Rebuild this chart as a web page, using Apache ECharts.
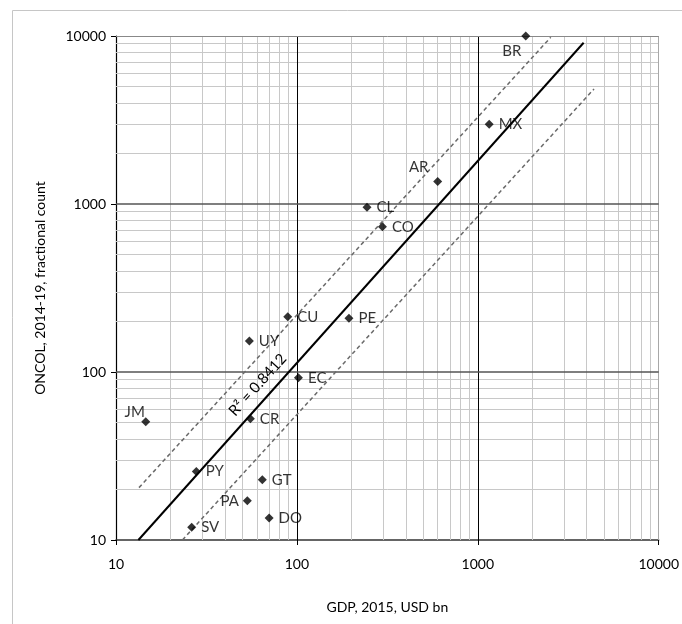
<!DOCTYPE html>
<html>
<head>
<meta charset="utf-8">
<script src="https://cdn.jsdelivr.net/npm/echarts@6/dist/echarts.min.js"></script>
<style>
  html, body { margin: 0; padding: 0; background: #fff; }
  #chart { width: 682px; height: 624px; }
</style>
</head>
<body>
<div id="chart"></div>
<script>
// country codes, GDP 2015 (USD bn), ONCOL 2014-19 fractional count
const countries = ["BR", "MX", "AR", "CL", "CO", "CU", "PE", "UY", "EC", "JM", "CR", "PY", "GT", "PA", "DO", "SV"];
const gdp = [1841, 1156, 600, 244, 297, 89, 194, 54.6, 102, 14.6, 55.3, 27.8, 64.4, 53.2, 70.2, 26.2];
const oncol = [10000, 2980, 1360, 955, 733, 213, 209, 153, 92.5, 50.6, 52.7, 25.6, 22.8, 17.1, 13.5, 11.9];

// power trendline and the two dashed bands (end points in data units)
const trendX = [13.3, 3846];
const trendY = [10, 9120];
const upperX = [13.4, 2530];
const upperY = [20.5, 9820];
const lowerX = [23.3, 4390];
const lowerY = [10, 4840];
const r2Text = "R² = 0.8412";
const r2At = [60.7, 83.8];

const xTicks = [10, 100, 1000, 10000];
const yTicks = [10, 100, 1000, 10000];
const minorMult = [2, 3, 4, 5, 6, 7, 8, 9];

const FONT = "Lato";
const FS = 15;

// label placement for each country
const labelPlace = {
  BR: { position: "inside", offset: [-14, 15] },
  AR: { position: "inside", offset: [-19, -14] },
  JM: { position: "inside", offset: [-11, -10] },
  PA: { position: "left", distance: 4 },
};

let chartDom = echarts.init(document.getElementById("chart"));

// grid lines as markLines
let minorX = [], minorY = [];
xTicks.slice(0, -1).forEach((t) => {
  minorMult.forEach((m) => minorX.push({ xAxis: t * m }));
});
yTicks.slice(0, -1).forEach((t) => {
  minorMult.forEach((m) => minorY.push({ yAxis: t * m }));
});
const minorStyle = { color: "#c8c8c8", width: 1, type: "solid" };

let pts = gdp.map((g, i) => {
  let p = labelPlace[countries[i]] || { position: "right", distance: 5 };
  return {
    value: [g, oncol[i]],
    name: countries[i],
    label: Object.assign({}, p),
  };
});

function pair(xs, ys) {
  return xs.map((x, i) => [x, ys[i]]);
}

chartDom.setOption({
  animation: false,
  textStyle: { fontFamily: FONT },
  graphic: [
    {
      type: "rect",
      shape: { x: 12.5, y: 10.5, width: 700, height: 700 },
      style: { fill: "none", stroke: "#c6c6c6", lineWidth: 1 },
      silent: true,
      z: -1,
    },
  ],
  grid: { left: 116, right: 22, top: 36, bottom: 84 },
  xAxis: {
    type: "log",
    logBase: 10,
    min: 10,
    max: 10000,
    name: "GDP, 2015, USD bn",
    nameLocation: "middle",
    nameGap: 60,
    nameTextStyle: { color: "#000", fontSize: FS - 1, fontFamily: FONT },
    axisLine: { lineStyle: { color: "#333", width: 1.5 } },
    axisTick: { show: true, length: 5, lineStyle: { color: "#000" } },
    axisLabel: {
      color: "#000", fontSize: FS - 1, margin: 17, fontFamily: FONT,
      formatter: (v) => String(Math.round(v)),
    },
    splitLine: { show: false },
  },
  yAxis: {
    type: "log",
    logBase: 10,
    min: 10,
    max: 10000,
    name: "ONCOL, 2014-19, fractional count",
    nameLocation: "middle",
    nameGap: 69,
    nameTextStyle: { color: "#000", fontSize: FS - 1, fontFamily: FONT },
    axisLine: { lineStyle: { color: "#000", width: 1.2 } },
    axisTick: { show: true, length: 5, lineStyle: { color: "#000" } },
    axisLabel: {
      color: "#000", fontSize: FS - 1, margin: 10, fontFamily: FONT,
      formatter: (v) => String(Math.round(v)),
    },
    splitLine: { show: false },
  },
  series: [
    {
      // grid lines
      type: "line",
      data: [],
      silent: true,
      z: 1,
      markLine: {
        silent: true,
        symbol: "none",
        z: 1,
        label: { show: false },
        animation: false,
        data: [
          ...minorX.map((d) => Object.assign(d, { lineStyle: minorStyle })),
          ...minorY.map((d) => Object.assign(d, { lineStyle: minorStyle })),
          { xAxis: 100, lineStyle: { color: "#000", width: 1, type: "solid" } },
          { xAxis: 1000, lineStyle: { color: "#000", width: 1, type: "solid" } },
          { xAxis: 10000, lineStyle: { color: "#a8a8a8", width: 1, type: "solid" } },
          { yAxis: 100, lineStyle: { color: "#555", width: 1.5, type: "solid" } },
          { yAxis: 1000, lineStyle: { color: "#555", width: 1.5, type: "solid" } },
          { yAxis: 10000, lineStyle: { color: "#888", width: 1, type: "solid" } },
        ],
      },
    },
    {
      name: "upper",
      type: "line",
      data: pair(upperX, upperY),
      showSymbol: false,
      silent: true,
      z: 3,
      lineStyle: { color: "#6a6a6a", width: 1.5, type: [4, 3] },
    },
    {
      name: "lower",
      type: "line",
      data: pair(lowerX, lowerY),
      showSymbol: false,
      silent: true,
      z: 3,
      lineStyle: { color: "#6a6a6a", width: 1.5, type: [4, 3] },
    },
    {
      name: "trend",
      type: "line",
      data: pair(trendX, trendY),
      showSymbol: false,
      silent: true,
      z: 4,
      lineStyle: { color: "#000", width: 2 },
      markPoint: {
        symbol: "circle",
        symbolSize: 0,
        silent: true,
        data: [
          {
            coord: r2At,
            label: {
              show: true,
              formatter: r2Text,
              position: "inside",
              rotate: 48,
              color: "#000",
              fontSize: FS,
              fontFamily: FONT,
            },
          },
        ],
      },
    },
    {
      name: "countries",
      type: "scatter",
      data: pts,
      symbol: "diamond",
      symbolSize: 9,
      clip: false,
      z: 5,
      itemStyle: { color: "#000" },
      label: {
        show: true,
        formatter: "{b}",
        color: "#000",
        fontSize: FS,
        fontFamily: FONT,
      },
    },
  ],
});
</script>
</body>
</html>
